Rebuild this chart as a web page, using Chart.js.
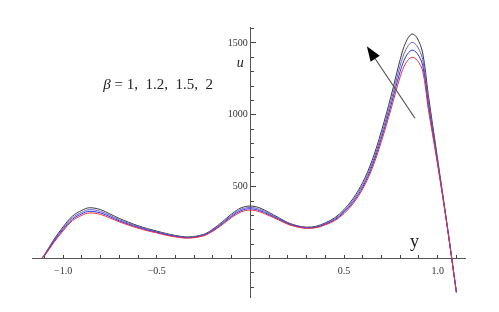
<!DOCTYPE html>
<html>
<head>
<meta charset="utf-8">
<script src="https://cdn.jsdelivr.net/npm/chart.js@4.4.0/dist/chart.umd.min.js"></script>
<style>
  html, body { margin: 0; padding: 0; background: #fff; }
  #wrap { width: 499px; height: 312px; }
</style>
</head>
<body>
<div id="wrap"><canvas id="chart"></canvas></div>
<script>
// y positions (horizontal axis) and velocity u for each beta
var yPos = [-1.115, -1.1, -1.05, -1.0, -0.95, -0.9, -0.86, -0.8, -0.75, -0.7, -0.65, -0.6, -0.55, -0.5,
  -0.45, -0.4, -0.33, -0.25, -0.2, -0.15, -0.1, -0.05, 0.0, 0.05, 0.1, 0.15, 0.2, 0.25, 0.3, 0.35,
  0.4, 0.45, 0.5, 0.55, 0.6, 0.65, 0.7, 0.75, 0.8, 0.83, 0.862, 0.89, 0.92, 0.95, 1.0, 1.05, 1.1];

var uBeta2 = [0, 25, 130, 220, 295, 335, 353, 340, 310, 279, 252, 228, 208, 191,
  174, 160, 150, 168, 205, 255, 310, 352, 365, 352, 320, 285, 250, 228, 218, 224,
  248, 283, 340, 420, 530, 683, 888, 1125, 1385, 1505, 1562, 1535, 1430, 1140, 690, 240, -235];
var uBeta15 = [0, 19, 116, 201, 273, 311, 328, 317, 291, 262, 238, 216, 198, 182,
  166, 153, 144, 161, 195, 241, 293, 333, 346, 333, 305, 274, 242, 222, 212, 217,
  238, 269, 321, 395, 498, 643, 838, 1063, 1302, 1405, 1450, 1428, 1344, 1071, 662, 233, -235];
var uBeta12 = [0, 22, 123, 210, 283, 322, 340, 328, 300, 270, 245, 222, 203, 186,
  170, 156, 147, 164, 200, 248, 301, 342, 355, 342, 312, 279, 246, 225, 215, 220,
  243, 276, 330, 407, 513, 662, 862, 1093, 1342, 1453, 1504, 1479, 1385, 1104, 676, 236, -235];
var uBeta1 = [0, 17, 110, 192, 263, 300, 317, 307, 282, 255, 232, 211, 193, 178,
  162, 150, 142, 158, 190, 235, 285, 324, 337, 325, 298, 269, 238, 219, 210, 214,
  234, 263, 312, 384, 484, 625, 816, 1035, 1265, 1360, 1400, 1380, 1305, 1040, 650, 230, -235];

var betaNames = ['2', '1.5', '1.2', '1'];
var lineColors = ['#3a3a3a', '#6a5fc8', '#3030e6', '#e8323e'];

var xMajorTicks = [-1.0, -0.5, 0.5, 1.0];
var xMinorTicks = [-1.1, -0.9, -0.8, -0.7, -0.6, -0.4, -0.3, -0.2, -0.1,
  0.1, 0.2, 0.3, 0.4, 0.6, 0.7, 0.8, 0.9, 1.1];
var uMajorTicks = [500, 1000, 1500];
var uMinorTicks = [-200, -100, 100, 200, 300, 400, 600, 700, 800, 900,
  1100, 1200, 1300, 1400, 1600];

function points(us) {
  return yPos.map(function (x, i) { return { x: x, y: us[i] }; });
}

var seriesList = [uBeta2, uBeta12, uBeta15, uBeta1];
var datasets = seriesList.map(function (us, i) {
  return {
    label: 'beta = ' + betaNames[i],
    data: points(us),
    showLine: true,
    borderColor: lineColors[i],
    borderWidth: 1,
    pointRadius: 0,
    tension: 0.35,
    fill: false,
    order: 4 - i
  };
});

var serif = 'Liberation Serif, Times New Roman, serif';

function setTicks(list) {
  return function (scale) {
    scale.ticks = list.map(function (v) { return { value: v }; });
  };
}

var annotations = {
  id: 'annotations',
  afterDatasetsDraw: function (chart) {
    var ctx = chart.ctx;
    var sx = chart.scales.x, sy = chart.scales.y;
    ctx.save();

    // arrow
    var x0 = sx.getPixelForValue(0.879), y0 = sy.getPixelForValue(976);
    var x1 = sx.getPixelForValue(0.622), y1 = sy.getPixelForValue(1477);
    var ang = Math.atan2(y1 - y0, x1 - x0);
    var hl = 15, hw = 5.5;
    var bx = x1 - hl * Math.cos(ang), by = y1 - hl * Math.sin(ang);
    ctx.strokeStyle = '#555';
    ctx.lineWidth = 1.2;
    ctx.beginPath();
    ctx.moveTo(x0, y0);
    ctx.lineTo(bx, by);
    ctx.stroke();
    ctx.fillStyle = '#000';
    ctx.beginPath();
    ctx.moveTo(x1, y1);
    ctx.lineTo(bx + hw * Math.sin(ang), by - hw * Math.cos(ang));
    ctx.lineTo(bx - hw * Math.sin(ang), by + hw * Math.cos(ang));
    ctx.closePath();
    ctx.fill();

    // axis names
    ctx.fillStyle = '#222';
    ctx.textBaseline = 'middle';
    ctx.textAlign = 'center';
    ctx.font = 'italic 14px ' + serif;
    ctx.fillText('u', sx.getPixelForValue(0) - 10, sy.getPixelForValue(1360));
    ctx.textBaseline = 'alphabetic';
    ctx.font = '18px ' + serif;
    ctx.fillText('y', sx.getPixelForValue(0.876), sy.getPixelForValue(80));

    // beta legend
    ctx.textAlign = 'left';
    var lx = sx.getPixelForValue(-0.785), ly = sy.getPixelForValue(1178);
    ctx.font = 'italic 15px ' + serif;
    ctx.fillText('\u03b2', lx, ly);
    var w = ctx.measureText('\u03b2').width;
    ctx.font = '15px ' + serif;
    ctx.fillText(' = 1,  1.2,  1.5,  2', lx + w, ly);
    ctx.restore();
  }
};

new Chart(document.getElementById('chart'), {
  type: 'scatter',
  data: { datasets: datasets },
  options: {
    responsive: true,
    maintainAspectRatio: false,
    animation: false,
    layout: { padding: { left: 32, right: 34, top: 27, bottom: 15 } },
    plugins: { legend: { display: false }, tooltip: { enabled: false } },
    scales: {
      x: {
        type: 'linear', min: -1.166, max: 1.146, position: { y: 0 },
        afterFit: function (s) { s.height = 0; },
        afterBuildTicks: setTicks(xMajorTicks),
        grid: { drawOnChartArea: false, drawTicks: true, tickLength: -4, color: '#444' },
        border: { display: true, color: '#555', width: 1 },
        ticks: {
          autoSkip: false, maxRotation: 0, padding: 11, color: '#333',
          font: { family: serif, size: 10 },
          callback: function (v) { return (v < 0 ? '\u2212' : '') + Math.abs(v).toFixed(1); }
        }
      },
      xMinor: {
        type: 'linear', axis: 'x', min: -1.166, max: 1.146, position: { y: 0 },
        afterFit: function (s) { s.height = 0; },
        afterBuildTicks: setTicks(xMinorTicks),
        grid: { drawOnChartArea: false, drawTicks: true, tickLength: -3, color: '#444' },
        border: { display: false },
        ticks: { autoSkip: false, maxRotation: 0, callback: function () { return ''; } }
      },
      y: {
        type: 'linear', min: -268, max: 1611, position: { x: 0 },
        afterFit: function (s) { s.width = 0; },
        afterBuildTicks: setTicks(uMajorTicks),
        grid: { drawOnChartArea: false, drawTicks: true, tickLength: -6, color: '#444' },
        border: { display: true, color: '#555', width: 1 },
        ticks: {
          autoSkip: false, padding: 3, color: '#333',
          font: { family: serif, size: 10 },
          callback: function (v) { return String(v) + '\u00a0'; }
        }
      },
      yMinor: {
        type: 'linear', axis: 'y', min: -268, max: 1611, position: { x: 0 },
        afterFit: function (s) { s.width = 0; },
        afterBuildTicks: setTicks(uMinorTicks),
        grid: { drawOnChartArea: false, drawTicks: true, tickLength: -4, color: '#444' },
        border: { display: false },
        ticks: { autoSkip: false, callback: function () { return ''; } }
      }
    }
  },
  plugins: [annotations]
});
</script>
</body>
</html>
